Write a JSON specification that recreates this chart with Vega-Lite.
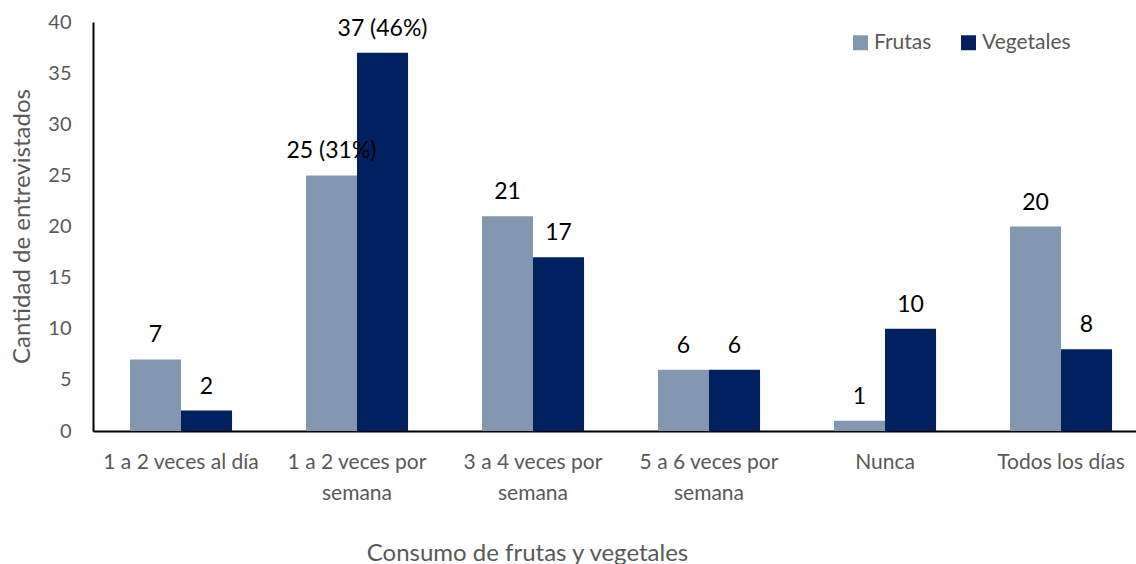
{
  "$schema": "https://vega.github.io/schema/vega-lite/v6.json",
  "autosize": "none",
  "width": 1043,
  "height": 409,
  "padding": {"left": 93, "top": 22, "right": 0, "bottom": 133},
  "background": "white",
  "config": {"view": {"stroke": null}, "font": "Lato"},
  "data": {
    "values": [
      {"consumo": "1 a 2 veces al día", "tipo": "Frutas", "n": 7, "label": "7"},
      {"consumo": "1 a 2 veces al día", "tipo": "Vegetales", "n": 2, "label": "2"},
      {"consumo": "1 a 2 veces por semana", "tipo": "Frutas", "n": 25, "label": "25 (31%)"},
      {"consumo": "1 a 2 veces por semana", "tipo": "Vegetales", "n": 37, "label": "37 (46%)"},
      {"consumo": "3 a 4 veces por semana", "tipo": "Frutas", "n": 21, "label": "21"},
      {"consumo": "3 a 4 veces por semana", "tipo": "Vegetales", "n": 17, "label": "17"},
      {"consumo": "5 a 6 veces por semana", "tipo": "Frutas", "n": 6, "label": "6"},
      {"consumo": "5 a 6 veces por semana", "tipo": "Vegetales", "n": 6, "label": "6"},
      {"consumo": "Nunca", "tipo": "Frutas", "n": 1, "label": "1"},
      {"consumo": "Nunca", "tipo": "Vegetales", "n": 10, "label": "10"},
      {"consumo": "Todos los días", "tipo": "Frutas", "n": 20, "label": "20"},
      {"consumo": "Todos los días", "tipo": "Vegetales", "n": 8, "label": "8"}
    ]
  },
  "encoding": {
    "x": {
      "field": "consumo",
      "type": "nominal",
      "sort": null,
      "scale": {"range": [0, 1056], "paddingInner": 0.42, "paddingOuter": 0.21},
      "axis": {
        "title": "Consumo de frutas y vegetales",
        "titleFontSize": 24,
        "titleFontWeight": "normal",
        "titleColor": "#595959",
        "titleX": 434,
        "titleY": 122,
        "titleAlign": "center",
        "titleBaseline": "middle",
        "labelAngle": 0,
        "labelFontSize": 21,
        "labelColor": "#595959",
        "labelPadding": 20,
        "labelLineHeight": 31,
        "labelExpr": "indexof(datum.label, ' semana') > 0 ? [slice(datum.label, 0, indexof(datum.label, ' semana')), 'semana'] : datum.label",
        "ticks": false,
        "domainColor": "#000000",
        "domainWidth": 2
      }
    },
    "xOffset": {"field": "tipo", "type": "nominal", "scale": {"paddingInner": 0, "paddingOuter": 0}},
    "y": {
      "field": "n",
      "type": "quantitative",
      "scale": {"domain": [0, 40]},
      "axis": {
        "title": "Cantidad de entrevistados",
        "titleFontSize": 24,
        "titleFontWeight": "normal",
        "titleColor": "#595959",
        "titleX": -71,
        "titleY": 204,
        "titleAngle": 270,
        "titleAlign": "center",
        "titleBaseline": "middle",
        "values": [0, 5, 10, 15, 20, 25, 30, 35, 40],
        "labelFontSize": 20,
        "labelColor": "#595959",
        "labelPadding": 22,
        "ticks": false,
        "grid": false,
        "domainColor": "#000000",
        "domainWidth": 2
      }
    }
  },
  "layer": [
    {
      "mark": {"type": "bar"},
      "encoding": {
        "color": {
          "field": "tipo",
          "type": "nominal",
          "scale": {"domain": ["Frutas", "Vegetales"], "range": ["#8497B0", "#002060"]},
          "legend": {
            "title": null,
            "orient": "none",
            "legendX": 757,
            "legendY": 10,
            "direction": "horizontal",
            "symbolType": "square",
            "symbolSize": 225,
            "symbolStrokeWidth": 0,
            "labelFontSize": 21,
            "labelColor": "#595959",
            "columnPadding": 26,
            "labelOffset": 3
          }
        }
      }
    },
    {
      "mark": {"type": "text", "baseline": "alphabetic", "dy": -17, "fontSize": 23, "color": "#000000"},
      "encoding": {"text": {"field": "label"}}
    }
  ]
}
